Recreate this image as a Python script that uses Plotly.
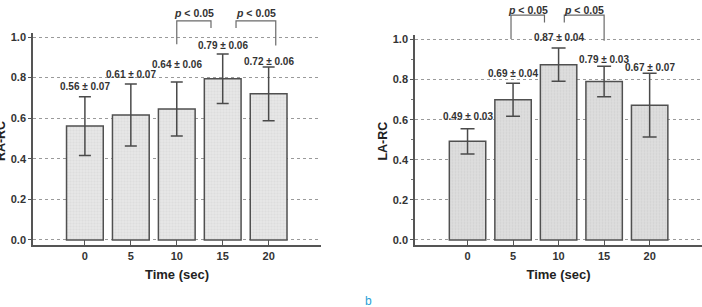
import plotly.graph_objects as go

# ---------------- data ----------------
time_labels = ["0", "5", "10", "15", "20"]
ra_mean = [0.561, 0.616, 0.645, 0.794, 0.720]
ra_err = [0.145, 0.153, 0.133, 0.122, 0.132]
ra_text = ["0.56 ± 0.07", "0.61 ± 0.07", "0.64 ± 0.06", "0.79 ± 0.06", "0.72 ± 0.06"]

la_mean = [0.492, 0.699, 0.874, 0.790, 0.672]
la_err = [0.063, 0.082, 0.083, 0.076, 0.159]
la_text = ["0.49 ± 0.03", "0.69 ± 0.04", "0.87 ± 0.04", "0.79 ± 0.03", "0.67 ± 0.07"]

ra_sig_pairs = [(2, 3), (3, 4)]
la_sig_pairs = [(1, 2), (2, 3)]
sig_label = "p < 0.05"
y_ticks = [0.0, 0.2, 0.4, 0.6, 0.8, 1.0]

# ---------------- styling ----------------
FONT = "Liberation Sans, Arial, sans-serif"
DARK = "#4a4a4a"
W, H = 702, 307

xr_left = [-1.13, 5.14]
xr_right = [-1.154, 5.15]
yr = [-0.026, 1.02]

xs = list(range(len(time_labels)))

fig = go.Figure()

fig.add_trace(go.Bar(
    x=xs, y=ra_mean, xaxis="x", yaxis="y", width=0.8,
    marker=dict(color="#e4e4e4", line=dict(color="#505050", width=1.5),
                pattern=dict(shape="+", size=3, solidity=0.15, fgcolor="#bdbdbd", bgcolor="#e6e6e6")),
    error_y=dict(type="data", array=ra_err, visible=True, color=DARK, thickness=1.5, width=6),
    showlegend=False))

fig.add_trace(go.Bar(
    x=xs, y=la_mean, xaxis="x2", yaxis="y2", width=0.8,
    marker=dict(color="#d9d9d9", line=dict(color="#505050", width=1.5),
                pattern=dict(shape=".", size=3, solidity=0.3, fgcolor="#c4c4c4", bgcolor="#dedede")),
    error_y=dict(type="data", array=la_err, visible=True, color=DARK, thickness=1.5, width=7),
    showlegend=False))

axis_common = dict(showline=True, linecolor="#555", linewidth=1.5, zeroline=False)
yaxis_common = dict(
    range=yr, tickvals=y_ticks, ticktext=[f"{v:.1f}" for v in y_ticks],
    ticks="outside", ticklen=3, tickcolor="#555", tickwidth=1,
    showgrid=True, gridcolor="#9a9a9a", griddash="dot", gridwidth=1,
    tickfont=dict(family=FONT, size=11, color="#333", weight="bold"),
    **axis_common)
xaxis_common = dict(
    tickvals=xs, ticktext=time_labels, ticks="inside", ticklen=5,
    tickcolor="#555", showgrid=False,
    tickfont=dict(family=FONT, size=11, color="#333", weight="bold"),
    title=dict(text="<b>Time (sec)</b>", font=dict(family=FONT, size=13, color="#222"), standoff=9),
    **axis_common)

fig.update_layout(
    width=W, height=H, margin=dict(l=0, r=0, t=0, b=0),
    paper_bgcolor="white", plot_bgcolor="white",
    bargap=0.2,
    xaxis=dict(domain=[33 / W, 321 / W], range=xr_left, anchor="y", **xaxis_common),
    yaxis=dict(domain=[0.2, 0.898], anchor="x", **yaxis_common),
    xaxis2=dict(domain=[415 / W, 1.0], range=xr_right, anchor="y2", **xaxis_common),
    yaxis2=dict(domain=[0.2, 0.89], anchor="x2",
                minor=dict(tickvals=[0.1, 0.3, 0.5, 0.7, 0.9], ticks="outside", ticklen=2, tickcolor="#777"),
                **yaxis_common),
)

annotations = []
shapes = []


def add_value_labels(xref, yref, means, errs, texts, shifts):
    for i, (m, e, t) in enumerate(zip(means, errs, texts)):
        annotations.append(dict(
            x=i, y=m + e, xref=xref, yref=yref, text=f"<b>{t}</b>", showarrow=False,
            xanchor="center", yanchor="middle", yshift=shifts[i],
            font=dict(family=FONT, size=10, color="#333")))


add_value_labels("x", "y", ra_mean, ra_err, ra_text, [10, 9, 18, 9, 6])
add_value_labels("x2", "y2", la_mean, la_err, la_text, [12, 10, 11, 7, 6])


def dom(v, rng):
    return (v - rng[0]) / (rng[1] - rng[0])


def add_bracket(xa, ya, xrng, pair, off, top, leg_l, leg_r, label_y):
    i, j = pair
    x0 = dom(i + off[0], xrng)
    x1 = dom(j + off[1], xrng)
    yt = dom(top, yr)
    line = dict(color="#6a6a6a", width=1.2)
    shapes.append(dict(type="path", xref=f"{xa} domain", yref=f"{ya} domain",
                       path=f"M{x0},{dom(leg_l, yr)} L{x0},{yt} L{x1},{yt} L{x1},{dom(leg_r, yr)}",
                       line=line))
    annotations.append(dict(x=(x0 + x1) / 2, y=dom(label_y, yr),
                            xref=f"{xa} domain", yref=f"{ya} domain",
                            text="<b><i>p</i> &lt; 0.05</b>", showarrow=False,
                            xanchor="center", yanchor="middle",
                            font=dict(family=FONT, size=10.5, color="#333")))


add_bracket("x", "y", xr_left, ra_sig_pairs[0], (0.0, -0.255), 1.08, 0.964, 1.045, 1.118)
add_bracket("x", "y", xr_left, ra_sig_pairs[1], (0.29, 0.155), 1.08, 1.045, 0.958, 1.118)
add_bracket("x2", "y2", xr_right, la_sig_pairs[0], (-0.045, -0.31), 1.121, 1.002, 1.084, 1.148)
add_bracket("x2", "y2", xr_right, la_sig_pairs[1], (0.125, 0.0), 1.121, 1.084, 0.993, 1.148)

# y-axis titles
annotations.append(dict(x=0.5 / W, y=1 - 141 / H, xref="paper", yref="paper", text="<b>RA-RC</b>",
                        textangle=-90, showarrow=False, xanchor="center", yanchor="middle",
                        font=dict(family=FONT, size=12.5, color="#222")))
annotations.append(dict(x=383 / W, y=1 - 141 / H, xref="paper", yref="paper", text="<b>LA-RC</b>",
                        textangle=-90, showarrow=False, xanchor="center", yanchor="middle",
                        font=dict(family=FONT, size=12.5, color="#222")))
# panel letter
annotations.append(dict(x=368 / W, y=1 - 301.5 / H, xref="paper", yref="paper", text="b",
                        showarrow=False, xanchor="center", yanchor="middle",
                        font=dict(family=FONT, size=12, color="#2a9fd6")))

fig.update_layout(annotations=annotations, shapes=shapes)

fig.write_html("out.html")
